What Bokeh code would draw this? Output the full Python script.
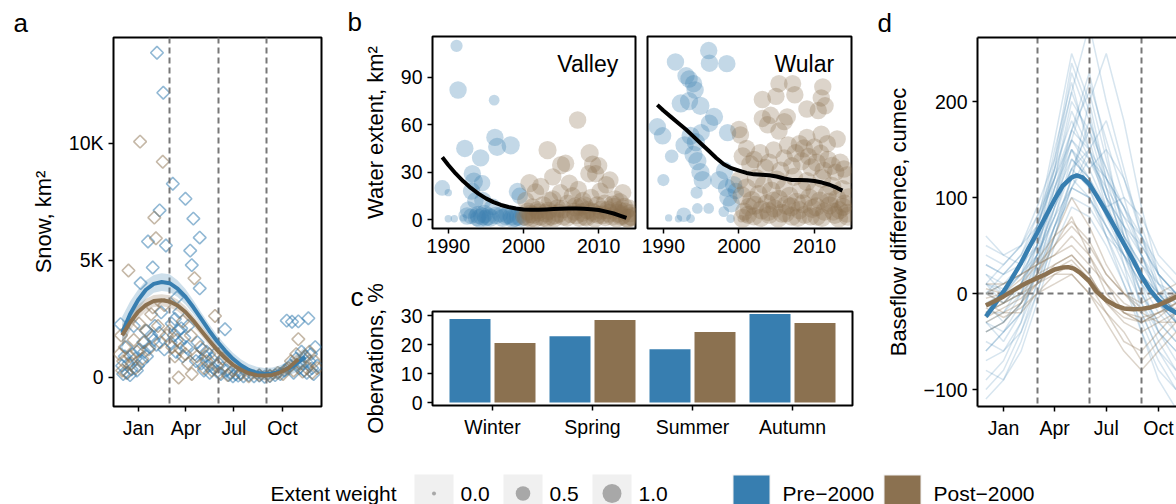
import numpy as np
from bokeh.plotting import figure
from bokeh.models import Range1d, FixedTicker, Label, LinearAxis, ColumnDataSource, Title
from bokeh.transform import dodge
from bokeh.layouts import row, column
from bokeh.embed import file_html
from bokeh.resources import INLINE
from bokeh.core.properties import value

BLUE = "#377EB0"
BROWN = "#8B7150"
FONT = "Liberation Sans"
TICK_FS = "19.5px"
TITLE_FS = "22px"

# ---------------- shared month axis ----------------
month_ticks = [1, 91, 182, 274]
month_labels = ["Jan", "Apr", "Jul", "Oct"]
season_breaks = [60, 152, 244]

# ---------------- panel a : snow ----------------
snow_pre_day = [-33, -30, -28, -25, -22, -20, -18, -15, -12, -10, -8, -5, -2, 0, 3, 5, 8, 10, 12, 15,
                17, 19, 22, 25, 28, 30, 32, 35, 36, 40, 41, 44, 48, 50, 53,
                62, 64, 66, 68, 70, 72, 74, 76, 78, 80, 82, 85, 88, 90, 92, 95, 99, 102, 105, 108,
                110, 113, 117, 117, 120, 122,
                125, 128, 130, 133, 136, 140, 143, 146, 150, 153, 157, 160, 165, 168, 172, 176, 180,
                185, 190, 195, 200,
                210, 220, 230, 240, 250, 260, 270, 278, 282, 288, 292, 295, 300, 304, 306, 310, 312,
                315, 318, 320, 323, 325, 328, 330, 333, 336, 340]
snow_pre_km2 = [2280, 500, 150, 900, 1300, 200, 600, 100, 350, 1000, 2200, 800, 300, 500, 1200, 4030, 700, 1500, 1100, 2000,
                900, 5810, 1300, 1800, 4700, 1600, 2200, 1400, 13880, 1900, 7140, 2780, 12170, 1200, 5640,
                1500, 2300, 8280, 1800, 2500, 1100, 3420, 2000, 2800, 1500, 2100, 900, 1700, 7640, 1300, 2200, 5420, 4800, 6790, 1000,
                700, 1500, 5980, 3810, 600, 1200,
                300, 900, 1100, 500, 200, 800, 400, 1000, 250, 600, 150, 400, 2060, 300, 100, 200, 50,
                150, 80, 200, 50,
                100, 50, 80, 30, 60, 100, 150, 300, 2430, 500, 2380, 200, 800, 2400, 400, 1100, 600,
                300, 900, 200, 2530, 700, 1000, 400, 150, 1300, 500]
snow_post_day = [-35, -32, -30, -28, -25, -22, -18, -15, -12, -8, -5, -2, 2, 4, 8, 12, 16, 20, 25, 28,
                 31, 34, 38, 42, 47, 50, 55, 60, 65, 70, 74, 77, 80, 85, 90, 95, 100, 102, 107, 112,
                 118, 125, 130, 135, 140, 146, 150, 155, 160, 170, 180, 195, 210, 230, 250, 265, 275,
                 285, 290, 295, 300, 304, 308, 312, 316, 320, 325, 330, 335, 340]
snow_post_km2 = [1000, 1800, 300, 700, 1300, 200, 4570, 900, 600, 1600, 400, 1100, 2300, 10080, 800, 1500, 2000, 1200, 2700, 3000,
                 6830, 5950, 2200, 1500, 9220, 3100, 1800, 2000, 1300, 900, 1600, 0, 1200, 2400, 1000, 600, 1800, 150, 4240, 900,
                 1300, 400, 700, 1000, 300, 2630, 500, 200, 800, 100, 300, 150, 50, 100, 80, 200, 150,
                 400, 700, 300, 1000, 1640, 600, 250, 900, 400, 1100, 200, 700, 400]

smooth_pre_day = [-30, -15, 0, 15, 30, 45, 60, 75, 90, 105, 120, 135, 150, 165, 180, 195, 210, 225, 240, 255, 270, 285, 300, 317]
smooth_pre_fit = [1900, 2700, 3300, 3750, 4000, 4080, 4030, 3800, 3450, 3000, 2500, 2000, 1550, 1150, 800, 520, 320, 200, 150, 170, 250, 380, 580, 880]
smooth_pre_se = [700, 550, 450, 400, 380, 380, 380, 360, 330, 300, 280, 270, 260, 260, 260, 260, 260, 260, 260, 260, 270, 300, 360, 450]
smooth_post_day = [-30, -15, 0, 15, 30, 45, 60, 75, 90, 105, 120, 135, 150, 165, 180, 195, 210, 225, 240, 255, 270, 285, 304]
smooth_post_fit = [1800, 2350, 2800, 3100, 3270, 3300, 3250, 3080, 2800, 2420, 2000, 1580, 1180, 830, 540, 330, 180, 100, 80, 110, 220, 400, 780]
smooth_post_se = [450, 360, 300, 270, 260, 260, 260, 250, 240, 230, 220, 210, 200, 200, 200, 200, 200, 200, 200, 210, 220, 250, 330]

# ---------------- panel b : water extent ----------------
valley_pre_year = [1989.2, 1990.0, 1990.0, 1990.8, 1991.1, 1991.3, 1992.0, 1992.2, 1992.7, 1993.0, 1993.2, 1993.4, 1993.6,
                   1994.0, 1994.3, 1994.5, 1994.5, 1995.0, 1995.3, 1995.9, 1996.1, 1996.2, 1996.5, 1996.9, 1997.6,
                   1998.3, 1998.4, 1998.9, 1999.2, 1999.5,
                   1993.8, 1994.2, 1994.8, 1995.6, 1996.3, 1997.2, 1997.9, 1998.6, 1999.3, 1999.7, 1992.5, 1993.1, 1994.6]
valley_pre_km2 = [20, 17, 0.5, 0.5, 110, 82, 1, 45, 6, 2, 29, 24, 12, 3, 39, 23, 2, 1, 2, 8, 75.6, 52, 46, 3, 2,
                  47, 2, 1, 17.7, 15,
                  1.5, 0.8, 3.5, 1.2, 2.5, 1.0, 3, 0.8, 2, 1, 2.2, 18, 12]
valley_pre_w = [0.6, 0.05, 0.05, 0.05, 0.3, 0.8, 0.05, 0.8, 0.8, 0.6, 0.8, 0.9, 0.7, 0.9, 0.8, 0.7, 0.9, 0.8, 0.9, 0.7,
                0.2, 0.8, 0.9, 0.6, 0.8, 0.9, 0.9, 0.9, 0.8, 0.7,
                0.9, 1.0, 0.9, 0.9, 0.8, 0.9, 0.9, 1.0, 0.9, 0.9, 0.8, 0.8, 0.8]
valley_post_year = [2000.1, 2000.3, 2000.6, 2000.8, 2001.0, 2001.2, 2001.3, 2001.6, 2001.9, 2002.2, 2002.3, 2002.6, 2002.9,
                    2003.1, 2003.2, 2003.5, 2003.9, 2003.9, 2004.2, 2004.5, 2004.9, 2005.0, 2005.3, 2005.6, 2005.9,
                    2006.1, 2006.5, 2006.8, 2007.0, 2007.2, 2007.3, 2007.6, 2007.9, 2008.2, 2008.5, 2008.7, 2008.8,
                    2009.0, 2009.2, 2009.4, 2009.6, 2009.8, 2010.0, 2010.2, 2010.5, 2010.8, 2011.0, 2011.2, 2011.5,
                    2011.8, 2012.0, 2012.2, 2012.5, 2012.8, 2013.0, 2013.2, 2013.5, 2013.8, 2014.0, 2014.3,
                    2000.4, 2000.9, 2001.5, 2002.0, 2002.7, 2003.3, 2003.7, 2004.1, 2004.7, 2005.2, 2005.8, 2006.3,
                    2006.9, 2007.4, 2007.8, 2008.1, 2008.4, 2009.1, 2009.5, 2009.9, 2010.4, 2010.9, 2011.4, 2011.9,
                    2012.4, 2012.7, 2013.1, 2013.4, 2013.9, 2014.2, 2014.5]
valley_post_km2 = [2, 12, 5, 23, 1, 8, 3, 17.5, 6, 2, 21, 9, 4, 1, 44, 12, 27, 13, 3, 7, 17, 34.5, 2, 35.6, 10,
                   23, 15, 5, 3, 63, 19, 8, 12, 2, 6, 29, 42, 14, 35, 4, 29, 9, 34, 18, 3, 10, 22, 6, 25,
                   2, 8, 13, 4, 11, 2, 17, 5, 1, 7, 2,
                   1.5, 3.5, 0.8, 4.5, 1.2, 5.5, 2, 0.8, 4, 6.5, 1.5, 3.5, 8, 1, 4.5, 9, 1.5, 5, 1, 3, 6, 1.5,
                   4, 9.5, 1, 6, 3, 8, 0.8, 4, 1.5]
valley_post_w = [0.9, 0.8, 0.9, 0.9, 1.0, 0.8, 0.9, 0.8, 0.9, 1.0, 0.8, 0.9, 0.9, 1.0, 0.9, 0.8, 0.8, 0.8, 1.0, 0.9,
                 0.8, 0.9, 1.0, 0.8, 0.9, 0.8, 0.8, 0.9, 1.0, 0.8, 0.8, 0.9, 0.8, 1.0, 0.9, 0.8, 0.9, 0.8, 0.8, 1.0,
                 0.8, 0.9, 0.8, 0.8, 1.0, 0.9, 0.8, 0.9, 0.8, 1.0, 0.9, 0.8, 1.0, 0.9, 1.0, 0.8, 0.9, 1.0, 0.9, 1.0,
                 1.0, 0.9, 1.0, 0.9, 1.0, 0.9, 1.0, 0.9, 1.0, 0.9, 1.0, 0.9, 1.0, 0.9, 1.0, 0.9, 1.0, 0.9, 1.0,
                 0.9, 1.0, 0.9, 1.0, 0.9, 1.0, 0.9, 1.0, 0.9, 1.0, 0.9, 1.0]
valley_smooth_year = [1989.2, 1990, 1991, 1992, 1993, 1994, 1995, 1996, 1997, 1998, 1999, 2000, 2001, 2002, 2003,
                      2004, 2005, 2006, 2007, 2008, 2009, 2010, 2011, 2012, 2013, 2013.7]
valley_smooth_km2 = [39.4, 34.5, 29.0, 24.2, 20.0, 16.4, 13.4, 11.0, 9.2, 7.9, 7.0, 6.4, 6.2, 6.2, 6.4, 6.6, 6.8,
                     6.9, 6.9, 6.8, 6.5, 6.0, 5.0, 3.8, 2.2, 1.0]

wular_pre_year = [1989.2, 1989.9, 1990.0, 1990.7, 1991.1, 1991.6, 1992.0, 1992.3, 1992.7, 1992.8, 1993.0, 1993.4,
                  1993.4, 1993.6, 1993.6, 1994.0, 1994.0, 1994.2, 1994.3, 1994.4, 1994.5, 1994.5, 1994.9, 1994.9,
                  1995.0, 1995.2, 1996.0, 1996.1, 1996.1, 1996.0, 1996.7, 1997.4, 1998.0, 1998.1, 1998.4, 1998.4,
                  1998.5, 1998.6, 1998.9, 1999.0, 1999.3, 1999.6]
wular_pre_km2 = [58.7, 53, 25, 1, 40, 99.8, 0.5, 73.5, 3, 47, 91, 89, 75, 53, 0.5, 86, 41, 82, 49, 17, 37, 7, 72, 30,
                 55, 25, 107, 99, 61, 7, 65, 25, 5, 31, 98.7, 20, 55, 14, 0.5, 10, 22, 18]
wular_pre_w = [0.8, 0.8, 0.3, 0.05, 0.4, 0.8, 0.05, 0.9, 0.5, 0.9, 0.8, 0.8, 0.9, 0.9, 0.1, 0.8, 0.9, 0.8, 0.9, 0.3,
               0.9, 0.2, 0.9, 0.9, 0.8, 0.9, 0.8, 0.8, 0.8, 0.2, 0.9, 0.9, 0.2, 0.8, 0.8, 0.9, 0.8, 0.9, 0.1, 0.8,
               0.8, 0.7]
wular_post_year = [2000.0, 2000.2, 2003.1, 2003.1, 2003.8, 2004.9, 2005.3, 2005.3, 2006.0, 2007.1, 2007.4, 2009.0,
                   2009.0, 2010.5, 2010.9, 2010.9, 2011.1, 2011.4, 2011.7, 2013.0, 2004.2, 2006.4,
                   2000.5, 2001.0, 2001.5, 2002.0, 2002.8, 2003.5, 2004.0, 2004.6, 2005.5, 2006.0, 2006.5, 2007.0,
                   2007.5, 2008.0, 2008.3, 2008.6, 2009.2, 2009.6, 2010.0, 2010.3, 2010.8, 2011.2, 2011.8, 2012.3,
                   2012.8, 2013.4, 2013.9, 2014.3,
                   2000.1, 2000.4, 2000.7, 2001.0, 2001.3, 2001.7, 2002.0, 2002.3, 2002.6, 2003.0, 2003.3, 2003.7,
                   2004.0, 2004.3, 2004.7, 2005.0, 2005.3, 2005.7, 2006.0, 2006.3, 2006.7, 2007.0, 2007.3, 2007.6,
                   2008.0, 2008.3, 2008.7, 2009.0, 2009.3, 2009.7, 2010.0, 2010.3, 2010.7, 2011.0, 2011.3, 2011.7,
                   2012.0, 2012.3, 2012.7, 2013.0, 2013.3, 2013.7, 2014.0, 2014.3, 2014.5, 2000.3, 2000.9,
                   2000.5, 2001.2, 2002.1, 2002.9, 2003.9, 2004.5, 2005.2, 2006.2, 2006.9, 2007.8, 2008.5, 2009.5,
                   2010.2, 2011.0, 2011.9, 2012.5, 2013.2, 2013.8, 2014.4]
wular_post_km2 = [57, 53.5, 64, 76, 60, 78, 86, 56, 62, 86, 79, 70, 52, 69, 77, 54, 84, 72, 48, 51, 66, 65,
                  40, 45, 35, 38, 42, 33, 36, 44, 31, 39, 47, 34, 42, 48, 37, 45, 40, 33, 46, 36, 42, 31, 38, 34,
                  30, 36, 32, 28,
                  25, 15, 5, 20, 8, 12, 2, 26, 16, 6, 22, 10, 3, 18, 7, 25, 13, 4, 20, 9, 15, 2, 27, 11,
                  6, 19, 3, 24, 14, 7, 18, 2, 12, 26, 5, 16, 9, 21, 3, 13, 6, 19, 10, 4, 14, 0.5, 0.5,
                  0.8, 3, 9, 1, 5, 12, 1, 4, 8, 1, 10, 2, 8, 1, 11, 5, 1, 8, 2]
wular_post_w = [0.8, 0.8, 0.8, 0.8, 0.8, 0.8, 0.8, 0.8, 0.8, 0.8, 0.8, 0.8, 0.8, 0.8, 0.8, 0.8, 0.8, 0.8, 0.8, 0.8, 0.8, 0.8,
                0.9, 0.8, 0.9, 0.8, 0.9, 0.8, 0.9, 0.8, 0.9, 0.8, 0.9, 0.8, 0.9, 0.8, 0.9, 0.9, 0.8, 0.9, 0.8, 0.9,
                0.8, 0.9, 0.8, 0.9, 0.8, 0.9, 0.8, 0.9,
                0.9, 1.0, 0.9, 1.0, 0.9, 1.0, 0.9, 1.0, 0.9, 1.0, 0.9, 1.0, 0.9, 1.0, 0.9, 1.0, 0.9, 1.0, 0.9,
                1.0, 0.9, 1.0, 0.9, 1.0, 0.9, 1.0, 0.9, 1.0, 0.9, 1.0, 0.9, 1.0, 0.9, 1.0, 0.9, 1.0, 0.9, 1.0,
                0.9, 1.0, 0.9, 1.0, 0.9, 1.0, 0.9, 0.05, 0.05,
                1.0, 0.9, 1.0, 0.9, 1.0, 0.9, 1.0, 0.9, 1.0, 0.9, 1.0, 0.9, 1.0, 0.9, 1.0, 0.9, 1.0, 0.9, 1.0]
wular_smooth_year = [1989.2, 1990, 1991, 1992, 1993, 1994, 1995, 1996, 1997, 1998, 1999, 2000, 2001, 2002, 2003,
                     2004, 2005, 2006, 2007, 2008, 2009, 2010, 2011, 2012, 2013, 2013.7]
wular_smooth_km2 = [72.6, 69.0, 65.0, 61.0, 57.0, 52.5, 48.0, 43.5, 39.0, 35.0, 32.5, 31.0, 29.5, 28.6, 28.3, 28.0,
                    27.2, 26.0, 25.0, 25.0, 24.9, 24.4, 23.4, 22.0, 20.0, 18.3]

# ---------------- panel c : observations ----------------
seasons = ["Winter", "Spring", "Summer", "Autumn"]
obs_pre_pct = [28.8, 22.9, 18.4, 30.5]
obs_post_pct = [20.5, 28.5, 24.3, 27.4]

# ---------------- panel d : baseflow difference ----------------
month_days = [-30, 1, 32, 60, 91, 121, 152, 182, 213, 244, 274, 305, 335]
baseflow_pre = [
    [-20, -10, 10, 60, 150, 220, 150, 90, 40, 10, -20, -40, -30],
    [10, 5, 20, 70, 160, 250, 200, 120, 60, 20, -10, -30, -20],
    [-60, -40, -10, 40, 120, 200, 170, 110, 50, 0, -30, -50, -40],
    [30, 20, 40, 80, 130, 180, 140, 100, 70, 40, 10, -10, 0],
    [-90, -70, -30, 30, 110, 170, 230, 150, 60, -20, -60, -80, -60],
    [0, 10, 30, 60, 100, 140, 120, 80, 50, 20, 0, -10, -5],
    [-30, -50, -20, 20, 90, 130, 150, 180, 120, 60, 10, -20, -30],
    [20, 0, 10, 40, 80, 110, 100, 70, 30, -10, -40, -60, -50],
    [-100, -80, -40, 10, 70, 120, 200, 250, 180, 90, 20, -30, -50],
    [40, 30, 50, 90, 140, 210, 280, 200, 130, 60, 0, -20, -10],
    [-10, 0, 20, 50, 110, 160, 130, 90, 60, 30, 10, 0, 5],
    [-40, -30, 0, 40, 90, 150, 110, 60, 10, -40, -80, -100, -90],
    [10, -10, 0, 30, 70, 100, 90, 60, 40, 20, 0, -20, -10],
    [-70, -60, -30, 10, 60, 120, 180, 130, 70, 10, -40, -70, -60],
    [60, 40, 30, 50, 100, 160, 140, 110, 80, 60, 30, 10, 20],
    [-20, -20, 10, 50, 130, 230, 180, 120, 80, 40, 0, -30, -20],
    [0, 20, 40, 70, 120, 190, 150, 100, 70, 50, 20, 0, 10],
    [-50, -60, -40, 0, 60, 110, 100, 60, 20, -20, -60, -90, -80],
    [20, 10, 20, 40, 80, 130, 170, 130, 90, 50, 20, 0, 5],
    [-10, -30, -10, 30, 100, 170, 210, 140, 70, 20, -10, -30, -20],
    [-80, -90, -60, -10, 50, 90, 80, 50, 10, -30, -70, -100, -90],
    [30, 20, 30, 60, 110, 150, 120, 90, 100, 80, 40, 20, 30],
    [-30, -20, 0, 50, 140, 240, 190, 110, 50, 0, -30, -50, -40],
    [10, 30, 50, 80, 120, 160, 220, 160, 100, 40, 0, -20, -10],
    [-60, -40, -20, 30, 80, 140, 120, 80, 40, -10, -50, -80, -70],
    [0, -10, 10, 40, 90, 130, 110, 70, 40, 10, -10, -30, -20],
    [-40, -30, -10, 20, 70, 110, 140, 120, 90, 40, -10, -40, -40],
    [50, 40, 50, 70, 120, 170, 150, 120, 90, 60, 20, 0, 10],
    [-20, 0, 30, 70, 130, 210, 160, 100, 60, 30, 0, -20, -10],
    [-110, -90, -50, 0, 60, 110, 150, 100, 30, -40, -90, -120, -100],
    [10, 0, 20, 50, 100, 150, 130, 150, 120, 70, 20, 0, 10],
    [-30, -40, -20, 20, 70, 120, 100, 70, 40, 0, -40, -60, -50],
]
baseflow_post = [
    [-20, -10, 0, 20, 50, 80, 40, 0, -20, -30, -20, -10, 0],
    [0, 10, 20, 30, 40, 50, 30, 10, -10, -20, -10, 0, 5],
    [-30, -20, -10, 10, 30, 40, 20, -10, -30, -40, -30, -20, -10],
    [10, 10, 20, 30, 50, 70, 50, 20, 0, -10, 0, 10, 15],
    [-10, -20, -20, 0, 20, 30, 10, -20, -50, -60, -40, -20, -10],
    [-40, -30, -10, 20, 60, 100, 70, 30, 0, -20, -30, -30, -20],
    [0, -10, 0, 10, 20, 20, 0, -20, -40, -70, -50, -30, -10],
    [-20, -10, 10, 30, 40, 60, 40, 10, -20, -30, -20, -10, -5],
    [5, 0, 5, 20, 30, 40, 20, -10, -25, -30, -25, -10, 0],
    [-15, -25, -15, 0, 10, 20, 0, -30, -60, -80, -60, -40, -20],
    [-5, 0, 15, 35, 60, 75, 55, 20, 0, -15, -10, 0, 5],
    [-25, -15, -5, 10, 25, 35, 15, -5, -20, -25, -20, -15, -10],
]
bf_smooth_pre_day = [-30, -15, 1, 15, 32, 45, 60, 75, 91, 105, 121, 130, 140, 152, 165, 182, 200, 213, 230, 244, 260, 274, 290, 305, 335]
bf_smooth_pre_val = [-24, -12, 2, 15, 32, 47, 63, 80, 98, 112, 121, 123, 121, 114, 102, 85, 66, 52, 34, 18, 3, -7, -15, -20, -25]
bf_smooth_post_day = [-30, -15, 1, 15, 32, 45, 60, 75, 91, 105, 115, 125, 135, 152, 165, 182, 200, 213, 230, 244, 260, 274, 290, 305, 335]
bf_smooth_post_val = [-12.5, -8, -3, 2, 8, 12, 16, 20, 25, 27, 27.5, 26, 22, 13, 2, -7, -13, -15.5, -16.5, -16, -14.5, -12, -8, -3.5, 5]

# ---------------- legend ----------------
legend_weights = [0.0, 0.5, 1.0]
legend_periods = ["Pre\u22122000", "Post\u22122000"]


def size_for_weight(w):
    return 4 + 15 * np.sqrt(np.asarray(w, dtype=float))


def make_fig(fw, fh, left, right, top, bottom, xr, yr, **kw):
    p = figure(frame_width=fw, frame_height=fh, min_border_left=left, min_border_right=right,
               min_border_top=top, min_border_bottom=bottom, x_range=xr, y_range=yr,
               output_backend="svg", toolbar_location=None, **kw)
    p.outline_line_color = "black"
    p.outline_line_width = 2
    p.grid.visible = False
    p.background_fill_color = "white"
    p.border_fill_color = "white"
    return p


def style_axes(p):
    for ax in p.axis:
        ax.axis_line_color = None
        ax.major_tick_line_color = "black"
        ax.major_tick_line_width = 1.5
        ax.major_tick_in = 0
        ax.major_tick_out = 5
        ax.minor_tick_line_color = None
        ax.major_label_text_font = FONT
        ax.major_label_text_font_size = TICK_FS
        ax.major_label_text_color = "black"
        ax.major_label_standoff = 5
        ax.axis_label_text_font = FONT
        ax.axis_label_text_font_size = TITLE_FS
        ax.axis_label_text_font_style = "normal"
        ax.axis_label_text_color = "black"
        ax.axis_label_standoff = 10


def panel_label(p, txt, offset):
    p.add_layout(Title(text=txt, align="left", offset=offset, standoff=0, text_font=FONT,
                       text_font_size="26px", text_font_style="normal", text_color="black"), "above")


DASH = dict(line_color="#777777", line_width=2, line_dash="6 4")

# ======== panel a ========
pa = make_fig(208, 369, 113, 19, 37, 49, Range1d(-46.4, 347.9), Range1d(-1240, 14530))
pa.scatter(snow_pre_day, snow_pre_km2, marker="square", size=9, angle=np.pi / 4, fill_color=None,
           line_color=BLUE, line_alpha=0.55, line_width=1.6)
pa.scatter(snow_post_day, snow_post_km2, marker="square", size=9, angle=np.pi / 4, fill_color=None,
           line_color=BROWN, line_alpha=0.5, line_width=1.6)
pa.vspan(x=season_breaks, **DASH)
pre_fit = np.array(smooth_pre_fit, float)
pre_se = np.array(smooth_pre_se, float)
post_fit = np.array(smooth_post_fit, float)
post_se = np.array(smooth_post_se, float)
pa.varea(x=smooth_pre_day, y1=pre_fit - pre_se, y2=pre_fit + pre_se, fill_color=BLUE, fill_alpha=0.25)
pa.varea(x=smooth_post_day, y1=post_fit - post_se, y2=post_fit + post_se, fill_color=BROWN, fill_alpha=0.25)
pa.line(smooth_pre_day, smooth_pre_fit, line_color=BLUE, line_width=4)
pa.line(smooth_post_day, smooth_post_fit, line_color=BROWN, line_width=4)
pa.xaxis.ticker = FixedTicker(ticks=month_ticks)
pa.xaxis.major_label_overrides = dict(zip(month_ticks, month_labels))
pa.yaxis.ticker = FixedTicker(ticks=[0, 5000, 10000])
pa.yaxis.major_label_overrides = {0: "0", 5000: "5K", 10000: "10K"}
pa.yaxis.axis_label = "Snow, km\u00b2"
style_axes(pa)
panel_label(pa, "a", -100)

# ======== panel b ========
yr_b = Range1d(-5.7, 115.9)
pb1 = make_fig(203, 192, 92, 6, 36, 42, Range1d(1987.9, 2014.9), yr_b)
pb2 = make_fig(204, 192, 6, 9, 36, 42, Range1d(1987.9, 2014.9), yr_b, y_axis_location=None)
for p, yp, vp, wp, yq, vq, wq, sy, sv, name in [
    (pb1, valley_pre_year, valley_pre_km2, valley_pre_w, valley_post_year, valley_post_km2, valley_post_w,
     valley_smooth_year, valley_smooth_km2, "Valley"),
    (pb2, wular_pre_year, wular_pre_km2, wular_pre_w, wular_post_year, wular_post_km2, wular_post_w,
     wular_smooth_year, wular_smooth_km2, "Wular")]:
    p.scatter(yp, vp, size=size_for_weight(wp), fill_color=BLUE, fill_alpha=0.3, line_color=None)
    p.scatter(yq, vq, size=size_for_weight(wq), fill_color=BROWN, fill_alpha=0.3, line_color=None)
    p.line(sy, sv, line_color="black", line_width=4)
    p.add_layout(Label(x=2012.6, y=98.5, text=name, text_font=FONT, text_font_size="23px",
                       text_align="right", text_baseline="alphabetic", text_color="black"))
    p.xaxis.ticker = FixedTicker(ticks=[1990, 2000, 2010])
    style_axes(p)
pb1.yaxis.ticker = FixedTicker(ticks=[0, 30, 60, 90])
pb1.yaxis.axis_label = "Water extent, km\u00b2"
panel_label(pb1, "b", -85)

# ======== panel c ========
pc = make_fig(420, 94, 92, 8, 41, 50, Range1d(-0.6, 3.6), Range1d(-1, 31.4))
src_c = ColumnDataSource(dict(idx=list(range(len(seasons))), pre=obs_pre_pct, post=obs_post_pct))
pc.vbar(x=dodge("idx", -0.225), top="pre", width=0.41, source=src_c, fill_color=BLUE, line_color=None)
pc.vbar(x=dodge("idx", 0.225), top="post", width=0.41, source=src_c, fill_color=BROWN, line_color=None)
pc.xaxis.ticker = FixedTicker(ticks=list(range(len(seasons))))
pc.xaxis.major_label_overrides = {i: s for i, s in enumerate(seasons)}
pc.yaxis.ticker = FixedTicker(ticks=[0, 10, 20, 30])
pc.yaxis.axis_label = "Obervations, %"
style_axes(pc)
panel_label(pc, "c", -82)

# ======== panel d ========
pdd = make_fig(199, 369, 117, 0, 37, 49, Range1d(-44.8, 305.7), Range1d(-117.7, 266.7))
pdd.outline_line_color = None
pdd.multi_line([month_days] * len(baseflow_pre), baseflow_pre, line_color=BLUE, line_alpha=0.2, line_width=1.5)
pdd.multi_line([month_days] * len(baseflow_post), baseflow_post, line_color=BROWN, line_alpha=0.3, line_width=1.5)
pdd.vspan(x=season_breaks, **DASH)
pdd.hspan(y=[0], **DASH)
pdd.line(bf_smooth_pre_day, bf_smooth_pre_val, line_color=BLUE, line_width=4.5)
pdd.line(bf_smooth_post_day, bf_smooth_post_val, line_color=BROWN, line_width=4.5)
pdd.xaxis.ticker = FixedTicker(ticks=month_ticks)
pdd.xaxis.major_label_overrides = dict(zip(month_ticks, month_labels))
pdd.yaxis.ticker = FixedTicker(ticks=[-100, 0, 100, 200])
pdd.yaxis.major_label_overrides = {-100: "\u2212100", 0: "0", 100: "100", 200: "200"}
pdd.yaxis.axis_label = "Baseflow difference, cumec"
top_ax = LinearAxis(ticker=FixedTicker(ticks=[]), major_label_text_font_size="0px")
pdd.add_layout(top_ax, "above")
style_axes(pdd)
for ax in pdd.axis:
    ax.axis_line_color = "black"
    ax.axis_line_width = 2
panel_label(pdd, "d", -100)

# ======== legend strip ========
pl = figure(width=1176, height=49, x_range=Range1d(0, 1176), y_range=Range1d(49, 0), min_border=0,
            x_axis_location=None, y_axis_location=None, output_backend="svg", toolbar_location=None)
pl.outline_line_color = None
pl.grid.visible = False
key_left = [414, 503, 592]
pl.quad(left=key_left, right=[k + 39 for k in key_left], top=19, bottom=58, fill_color="#F0F0F0", line_color=None)
pl.scatter([k + 19.5 for k in key_left], [38] * 3, size=size_for_weight(legend_weights),
           fill_color="#A8A8A8", line_color=None)
col_left = [732, 883]
pl.quad(left=col_left, right=[k + 38 for k in col_left], top=19, bottom=58, fill_color="#F0F0F0", line_color=None)
pl.quad(left=[k + 1 for k in col_left], right=[k + 37 for k in col_left], top=20, bottom=58,
        fill_color=[BLUE, BROWN], line_color=None)
pl.text(x=[270, 460, 549, 638, 782, 933], y=[38] * 6,
        text=["Extent weight"] + ["%.1f" % w for w in legend_weights] + legend_periods,
        text_font=value(FONT), text_font_size="21px", text_baseline="middle", text_color="black")

layout = column(row(pa, column(row(pb1, pb2), pc), pdd), pl)
open("out.html", "w").write(file_html(layout, INLINE))
